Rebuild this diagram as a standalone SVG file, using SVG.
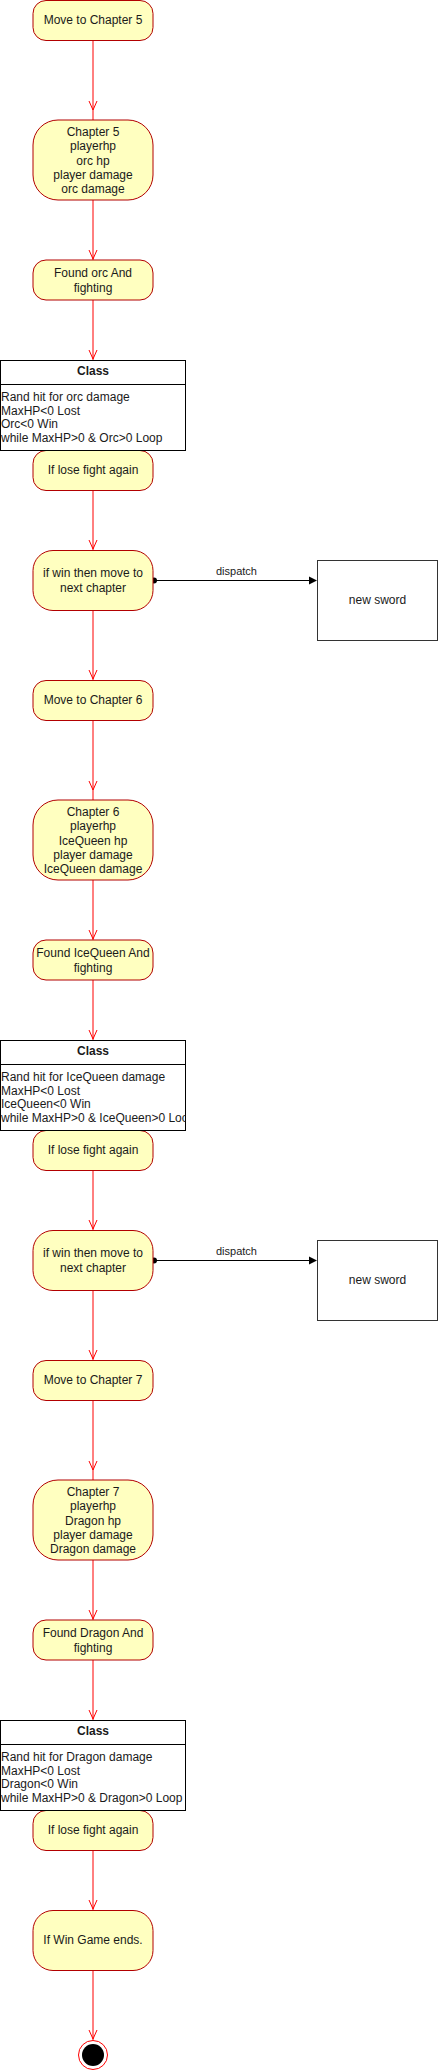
<svg xmlns="http://www.w3.org/2000/svg" xmlns:xlink="http://www.w3.org/1999/xlink" width="439" height="2071" viewBox="0 0 439 2071">
<style>
.st{fill:#FFFFC0;stroke:#B20000;stroke-width:1}
.t{font-family:"Liberation Sans",Arial,sans-serif;font-size:12px;fill:#1a1a1a;text-anchor:middle}
.tl{font-family:"Liberation Sans",Arial,sans-serif;font-size:12px;fill:#1a1a1a;text-anchor:start}
.tb{font-family:"Liberation Sans",Arial,sans-serif;font-size:12px;font-weight:bold;fill:#1a1a1a;text-anchor:middle}
.lbl{font-family:"Liberation Sans",Arial,sans-serif;font-size:11px;fill:#1a1a1a;text-anchor:middle}
.cls{fill:#ffffff;stroke:#000000;stroke-width:1}
.sep{stroke:#000000;stroke-width:1}
.box{fill:#ffffff;stroke:#333333;stroke-width:1}
.e{stroke:#FF0000;stroke-width:1;fill:none}
.ah{stroke:#FF0000;stroke-width:1;fill:none}
.d{stroke:#000000;stroke-width:1;fill:none}
</style>
<defs>
<path id="ah" d="M-4,-9 L0,0 L4,-9"/>
<clipPath id="clipC"><rect x="0" y="0" width="185.5" height="2071"/></clipPath>
</defs>

<g id="connectors">
<!-- section 5 -->
<path class="e" d="M93,40 L93,120"/>
<use href="#ah" class="ah" transform="translate(93,110)"/>
<path class="e" d="M93,200 L93,260"/>
<use href="#ah" class="ah" transform="translate(93,259)"/>
<path class="e" d="M93,300 L93,360"/>
<use href="#ah" class="ah" transform="translate(93,359)"/>
<path class="e" d="M93,490 L93,550"/>
<use href="#ah" class="ah" transform="translate(93,549)"/>
<path class="e" d="M93,610 L93,680"/>
<use href="#ah" class="ah" transform="translate(93,679)"/>
<path class="d" d="M153,580.5 L312,580.5"/>
<circle cx="154" cy="580.5" r="3" fill="#000"/>
<path d="M317,580.5 L309,576.5 L309,584.5 Z" fill="#000"/>
<text class="lbl" x="236.5" y="575">dispatch</text>
<!-- section 6 -->
<path class="e" d="M93,720 L93,800"/>
<use href="#ah" class="ah" transform="translate(93,790)"/>
<path class="e" d="M93,880 L93,940"/>
<use href="#ah" class="ah" transform="translate(93,939)"/>
<path class="e" d="M93,980 L93,1040"/>
<use href="#ah" class="ah" transform="translate(93,1039)"/>
<path class="e" d="M93,1170 L93,1230"/>
<use href="#ah" class="ah" transform="translate(93,1229)"/>
<path class="e" d="M93,1290 L93,1360"/>
<use href="#ah" class="ah" transform="translate(93,1359)"/>
<path class="d" d="M153,1260.5 L312,1260.5"/>
<circle cx="154" cy="1260.5" r="3" fill="#000"/>
<path d="M317,1260.5 L309,1256.5 L309,1264.5 Z" fill="#000"/>
<text class="lbl" x="236.5" y="1255">dispatch</text>
<!-- section 7 -->
<path class="e" d="M93,1400 L93,1480"/>
<use href="#ah" class="ah" transform="translate(93,1470)"/>
<path class="e" d="M93,1560 L93,1620"/>
<use href="#ah" class="ah" transform="translate(93,1619)"/>
<path class="e" d="M93,1660 L93,1720"/>
<use href="#ah" class="ah" transform="translate(93,1719)"/>
<path class="e" d="M93,1850 L93,1910"/>
<use href="#ah" class="ah" transform="translate(93,1909)"/>
<path class="e" d="M93,1970 L93,2040"/>
<use href="#ah" class="ah" transform="translate(93,2039)"/>
</g>

<!-- Section 5 -->
<g id="move5"><rect class="st" x="33" y="0.5" width="120" height="40" rx="13"/><text class="t" x="93" y="24">Move to Chapter 5</text></g>
<g id="chapter5"><rect class="st" x="33" y="120" width="120" height="80" rx="25"/>
<text class="t" x="93" y="136">Chapter 5</text><text class="t" x="93" y="150.3">playerhp</text><text class="t" x="93" y="164.6">orc hp</text><text class="t" x="93" y="179">player damage</text><text class="t" x="93" y="193.3">orc damage</text></g>
<g id="found5"><rect class="st" x="33" y="260" width="120" height="40" rx="13"/><text class="t" x="93" y="277">Found orc And</text><text class="t" x="93" y="292">fighting</text></g>
<g id="lose5"><rect class="st" x="33" y="450.5" width="120" height="40" rx="13"/><text class="t" x="93" y="474">If lose fight again</text></g>
<g id="class5"><rect class="cls" x="0.5" y="360.5" width="185" height="90"/><line class="sep" x1="0.5" y1="384.5" x2="185.5" y2="384.5"/>
<text class="tb" x="93" y="375">Class</text>
<g clip-path="url(#clipC)"><text class="tl" x="1" y="401">Rand hit for orc damage</text><text class="tl" x="1" y="414.7">MaxHP&lt;0 Lost</text><text class="tl" x="1" y="428.4">Orc&lt;0 Win</text><text class="tl" x="1" y="442">while MaxHP&gt;0 &amp; Orc&gt;0 Loop</text></g></g>
<g id="win5"><rect class="st" x="33" y="550.5" width="120" height="60" rx="20"/><text class="t" x="93" y="577">if win then move to</text><text class="t" x="93" y="592">next chapter</text></g>
<g id="sword5"><rect class="box" x="317.5" y="560.5" width="120" height="80"/><text class="t" x="377.5" y="604">new sword</text></g>

<!-- Section 6 -->
<g id="move6"><rect class="st" x="33" y="680.5" width="120" height="40" rx="13"/><text class="t" x="93" y="704">Move to Chapter 6</text></g>
<g id="chapter6"><rect class="st" x="33" y="800" width="120" height="80" rx="25"/>
<text class="t" x="93" y="816">Chapter 6</text><text class="t" x="93" y="830.3">playerhp</text><text class="t" x="93" y="844.6">IceQueen hp</text><text class="t" x="93" y="859">player damage</text><text class="t" x="93" y="873.3">IceQueen damage</text></g>
<g id="found6"><rect class="st" x="33" y="940" width="120" height="40" rx="13"/><text class="t" x="93" y="957">Found IceQueen And</text><text class="t" x="93" y="972">fighting</text></g>
<g id="lose6"><rect class="st" x="33" y="1130.5" width="120" height="40" rx="13"/><text class="t" x="93" y="1154">If lose fight again</text></g>
<g id="class6"><rect class="cls" x="0.5" y="1040.5" width="185" height="90"/><line class="sep" x1="0.5" y1="1064.5" x2="185.5" y2="1064.5"/>
<text class="tb" x="93" y="1055">Class</text>
<g clip-path="url(#clipC)"><text class="tl" x="1" y="1081">Rand hit for IceQueen damage</text><text class="tl" x="1" y="1094.7">MaxHP&lt;0 Lost</text><text class="tl" x="1" y="1108.4">IceQueen&lt;0 Win</text><text class="tl" x="1" y="1122">while MaxHP&gt;0 &amp; IceQueen&gt;0 Loop</text></g></g>
<g id="win6"><rect class="st" x="33" y="1230.5" width="120" height="60" rx="20"/><text class="t" x="93" y="1257">if win then move to</text><text class="t" x="93" y="1272">next chapter</text></g>
<g id="sword6"><rect class="box" x="317.5" y="1240.5" width="120" height="80"/><text class="t" x="377.5" y="1284">new sword</text></g>

<!-- Section 7 -->
<g id="move7"><rect class="st" x="33" y="1360.5" width="120" height="40" rx="13"/><text class="t" x="93" y="1384">Move to Chapter 7</text></g>
<g id="chapter7"><rect class="st" x="33" y="1480" width="120" height="80" rx="25"/>
<text class="t" x="93" y="1496">Chapter 7</text><text class="t" x="93" y="1510.3">playerhp</text><text class="t" x="93" y="1524.6">Dragon hp</text><text class="t" x="93" y="1539">player damage</text><text class="t" x="93" y="1553.3">Dragon damage</text></g>
<g id="found7"><rect class="st" x="33" y="1620" width="120" height="40" rx="13"/><text class="t" x="93" y="1637">Found Dragon And</text><text class="t" x="93" y="1652">fighting</text></g>
<g id="lose7"><rect class="st" x="33" y="1810.5" width="120" height="40" rx="13"/><text class="t" x="93" y="1834">If lose fight again</text></g>
<g id="class7"><rect class="cls" x="0.5" y="1720.5" width="185" height="90"/><line class="sep" x1="0.5" y1="1744.5" x2="185.5" y2="1744.5"/>
<text class="tb" x="93" y="1735">Class</text>
<g clip-path="url(#clipC)"><text class="tl" x="1" y="1761">Rand hit for Dragon damage</text><text class="tl" x="1" y="1774.7">MaxHP&lt;0 Lost</text><text class="tl" x="1" y="1788.4">Dragon&lt;0 Win</text><text class="tl" x="1" y="1802">while MaxHP&gt;0 &amp; Dragon&gt;0 Loop</text></g></g>
<g id="winend"><rect class="st" x="33" y="1910.5" width="120" height="60" rx="20"/><text class="t" x="93" y="1944">If Win Game ends.</text></g>
<g id="end"><circle cx="93" cy="2055" r="14.5" fill="#ffffff" stroke="#FF0000" stroke-width="1"/><circle cx="93" cy="2055" r="11" fill="#000000"/></g>
</svg>
